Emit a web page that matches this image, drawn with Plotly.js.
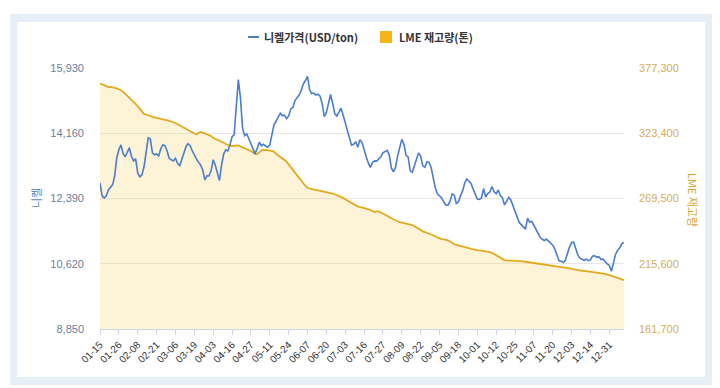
<!DOCTYPE html>
<html>
<head>
<meta charset="utf-8">
<script src="https://cdn.plot.ly/plotly-3.0.1.min.js"></script>
<style>
html,body{margin:0;padding:0;background:#ffffff;width:720px;height:388px;overflow:hidden;}
#outer{position:absolute;left:10px;top:14px;width:702px;height:371px;background:#e6eef8;}
#inner{position:absolute;left:17px;top:22px;width:688px;height:355px;background:#ffffff;}
#chart{position:absolute;left:0;top:0;width:720px;height:388px;}
</style>
</head>
<body>
<div id="outer"></div>
<div id="inner"></div>
<div id="chart"></div>
<script>
// Trading days (categories)
const dates = [
'01-15','01-16','01-17','01-18','01-19','01-22','01-23','01-24','01-25','01-26','01-29','01-30','01-31',
'02-01','02-02','02-05','02-06','02-07','02-08','02-09','02-12','02-13','02-14','02-15','02-16','02-19','02-20','02-21','02-22','02-23','02-26','02-27','02-28',
'03-01','03-02','03-05','03-06','03-07','03-08','03-09','03-12','03-13','03-14','03-15','03-16','03-19','03-20','03-21','03-22','03-23','03-26','03-27','03-28','03-29',
'04-03','04-04','04-05','04-06','04-09','04-10','04-11','04-12','04-13','04-16','04-17','04-18','04-19','04-20','04-23','04-24','04-25','04-26','04-27','04-30',
'05-01','05-02','05-03','05-04','05-08','05-09','05-10','05-11','05-14','05-15','05-16','05-17','05-18','05-21','05-22','05-23','05-24','05-25','05-29','05-30','05-31',
'06-01','06-04','06-05','06-06','06-07','06-08','06-11','06-12','06-13','06-14','06-15','06-18','06-19','06-20','06-21','06-22','06-25','06-26','06-27','06-28','06-29',
'07-02','07-03','07-04','07-05','07-06','07-09','07-10','07-11','07-12','07-13','07-16','07-17','07-18','07-19','07-20','07-23','07-24','07-25','07-26','07-27','07-30','07-31',
'08-01','08-02','08-03','08-06','08-07','08-08','08-09','08-10','08-13','08-14','08-15','08-16','08-17','08-20','08-21','08-22','08-23','08-24','08-28','08-29','08-30','08-31',
'09-03','09-04','09-05','09-06','09-07','09-10','09-11','09-12','09-13','09-14','09-17','09-18','09-19','09-20','09-21','09-24','09-25','09-26','09-27','09-28',
'10-01','10-02','10-03','10-04','10-05','10-08','10-09','10-10','10-11','10-12','10-15','10-16','10-17','10-18','10-19','10-22','10-23','10-24','10-25','10-26','10-29','10-30','10-31',
'11-01','11-02','11-05','11-06','11-07','11-08','11-09','11-12','11-13','11-14','11-15','11-16','11-19','11-20','11-21','11-22','11-23','11-26','11-27','11-28','11-29','11-30',
'12-03','12-04','12-05','12-06','12-07','12-10','12-11','12-12','12-13','12-14','12-17','12-18','12-19','12-20','12-21','12-24','12-27','12-28','12-31',
'01-02','01-03','01-04','01-07','01-08','01-09','01-10'
];

// Nickel price (USD/ton)
const nickel = [
12810,12460,12400,12460,12620,12705,12760,13000,13495,13710,
13845,13615,13520,13645,13765,13535,13410,13465,13085,12975,
13030,13250,13685,14035,14010,13630,13575,13600,13545,13740,
13845,13820,13685,13480,13440,13410,13480,13345,13275,13450,
13655,13790,13875,13820,13685,13560,13465,13370,13300,13165,
12895,13005,13000,13140,13440,13290,13055,12880,13300,13595,
13710,13680,13845,14065,14120,14800,15615,15125,14310,14090,
14145,14010,13875,13710,13600,13750,13915,13820,13860,13815,
13780,13845,14175,14390,14485,14610,14705,14635,14650,14555,
14625,14820,14860,15045,15125,15195,15315,15495,15590,15700,
15345,15235,15250,15195,15220,15165,14965,14610,14725,14965,
15210,14975,14690,14625,14720,14840,14650,14460,14240,14035,
13835,13860,13930,13780,13985,13915,13685,13520,13355,13235,
13365,13410,13405,13465,13520,13630,13655,13695,13575,13220,
13110,13235,13545,13805,13995,13860,13560,13520,13140,13100,
13290,13465,13630,13535,13275,13235,13385,13370,13230,12950,
12675,12515,12445,12405,12295,12215,12210,12310,12515,12485,
12255,12295,12470,12595,12810,12920,12865,12800,12650,12525,
12375,12365,12405,12660,12430,12525,12565,12715,12580,12520,
12620,12470,12415,12215,12300,12420,12350,12185,12010,11845,
11740,11680,11620,11560,11860,11750,11765,11655,11545,11465,
11340,11285,11250,11290,11235,11180,11125,11015,10850,10700,
10690,10655,10715,10905,11070,11195,11205,11030,10855,10770,
10730,10715,10745,10705,10725,10825,10840,10795,10810,10740,
10745,10675,10615,10580,10415,10645,10880,10990,11055,11165,
11200];

// LME stock (ton)
const stock = [
364450,364050,363200,362350,361300,361700,361550,360900,360450,359900,
358950,357800,356150,354650,352850,351200,349350,347700,345550,343300,
341250,339400,338750,338400,337650,337000,336500,336000,335500,335150,
334850,334500,334200,333750,333350,332750,331850,330850,329950,329050,
328050,326950,325900,325050,324150,323250,322400,323800,324500,323900,
323200,322550,321800,321100,319650,318900,318200,317500,316600,315550,
314550,313600,313100,312850,313200,313550,313350,312600,311950,311300,
310450,309550,308700,307550,306400,306000,308050,309300,309700,309750,
309400,309050,308900,308200,306400,304900,303750,302750,301600,299950,
297700,295450,292900,290500,288300,286250,283750,281850,279850,278350,
277700,277150,276900,276550,276200,275900,275650,275400,275150,274800,
274150,273550,273000,272400,271750,270900,270000,268900,267750,266750,
265750,264850,263800,263050,262600,262300,261950,261450,260800,260200,
259150,258300,258900,258850,257950,257150,256300,255150,254150,253150,
252150,251500,250700,250000,249350,249100,248750,248500,248200,247550,
246600,245450,244200,242950,242400,241800,241200,240550,239900,239250,
238300,237350,236350,235900,235650,235500,234900,233950,232750,231750,
231200,230700,230100,229600,229100,228600,228050,227550,227150,226800,
226700,226650,226450,226300,225900,225550,225150,224650,223550,222650,
221550,220600,219500,218650,218400,218350,218250,218150,218100,218000,
217850,217650,217500,217250,217000,216750,216500,216350,216100,215950,
215700,215500,215350,215200,214950,214600,214250,214050,213800,213550,
213300,213050,212700,212300,211850,211350,210950,210600,210200,209950,
209800,209650,209450,209300,209050,208800,208550,208300,208050,207800,
207550,207250,206800,206300,205650,205000,204400,203800,203250,202650,
202100];

const xTicks = ['01-15','01-26','02-08','02-21','03-06','03-19','04-03','04-16','04-27','05-11','05-24','06-07','06-20','07-03','07-16','07-27','08-09','08-22','09-05','09-18','10-01','10-12','10-25','11-07','11-20','12-03','12-14','12-31'];
const nickelTicks = [8850,10620,12390,14160,15930];
const stockTicks = [161700,215600,269500,323400,377300];
const seriesNames = ['니켈가격(USD/ton)','LME 재고량(톤)'];
const axisTitles = ['니켈','LME 재고량'];

const BLUE = '#4a7dcc';
const GOLD = '#e4a91e';

const traces = [
  {x: dates, y: stock, type: 'scatter', mode: 'lines', yaxis: 'y', name: seriesNames[1],
   line: {color: GOLD, width: 1.8}, fill: 'tozeroy', fillcolor: 'rgba(250,214,120,0.30)',
   hoverinfo: 'skip', showlegend: false},
  {x: dates, y: nickel, type: 'scatter', mode: 'lines', yaxis: 'y2', name: seriesNames[0],
   line: {color: BLUE, width: 1.6}, hoverinfo: 'skip', showlegend: false}
];

const W = 524, H = 261, L = 100, T = 68;
const px = v => (v - L) / W;
const py = v => (T + H - v) / H;

const layout = {
  width: 720, height: 388,
  margin: {l: L, r: 96, t: T, b: 59, pad: 0},
  paper_bgcolor: 'rgba(0,0,0,0)', plot_bgcolor: 'rgba(0,0,0,0)',
  font: {family: 'Liberation Sans, Arial, sans-serif', size: 11, color: '#333'},
  showlegend: false,
  xaxis: {type: 'category', range: [0, dates.length - 1], tickmode: 'array', tickvals: xTicks, ticktext: xTicks,
    tickangle: -45, ticks: 'outside', ticklen: 5, tickcolor: '#ccd6eb', tickwidth: 1,
    showline: true, linecolor: '#ccd6eb', linewidth: 1, showgrid: false, zeroline: false,
    tickfont: {size: 10, color: '#333'}, fixedrange: true},
  yaxis: {side: 'right', range: [stockTicks[0], stockTicks[4]], tickmode: 'array', tickvals: stockTicks,
    tickformat: ',d', showgrid: true, gridcolor: '#e6e6e6', gridwidth: 1, zeroline: false, showline: false,
    ticks: '', ticklabelstandoff: 14, tickfont: {size: 11, color: '#d4ad5a'}, fixedrange: true},
  yaxis2: {side: 'left', overlaying: 'y', range: [nickelTicks[0], nickelTicks[4]], tickmode: 'array', tickvals: nickelTicks,
    tickformat: ',d', showgrid: false, zeroline: false, showline: false,
    ticks: '', ticklabelstandoff: 15, tickfont: {size: 11, color: '#6b7e98'}, fixedrange: true},
  shapes: [
    {type: 'line', xref: 'paper', yref: 'paper', x0: px(248), x1: px(259), y0: py(37), y1: py(37), line: {color: BLUE, width: 2}},
    {type: 'rect', xref: 'paper', yref: 'paper', x0: px(380), x1: px(392), y0: py(43), y1: py(31), line: {width: 0}, fillcolor: '#f7b418'}
  ],
  annotations: [
    {xref: 'paper', yref: 'paper', x: px(262), y: py(37), xanchor: 'left', yanchor: 'middle', showarrow: false,
     text: seriesNames[0], font: {family: 'Noto Sans CJK KR', size: 11, color: '#333', weight: 'bold'}},
    {xref: 'paper', yref: 'paper', x: px(397), y: py(37), xanchor: 'left', yanchor: 'middle', showarrow: false,
     text: seriesNames[1], font: {family: 'Noto Sans CJK KR', size: 11, color: '#333', weight: 'bold'}},
    {xref: 'paper', yref: 'paper', x: px(36), y: py(198), xanchor: 'center', yanchor: 'middle', showarrow: false,
     textangle: -90, text: axisTitles[0], font: {family: 'Noto Sans CJK KR', size: 11, color: '#5b87c9'}},
    {xref: 'paper', yref: 'paper', x: px(693), y: py(200), xanchor: 'center', yanchor: 'middle', showarrow: false,
     textangle: 90, text: axisTitles[1], font: {family: 'Noto Sans CJK KR', size: 11, color: '#d9a62a'}}
  ]
};

Plotly.newPlot('chart', traces, layout, {displayModeBar: false, staticPlot: true});
</script>
</body>
</html>
